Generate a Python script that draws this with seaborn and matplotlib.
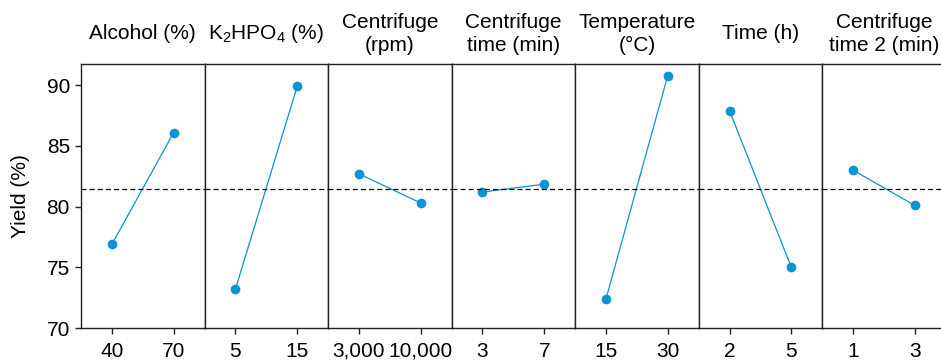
import seaborn as sns
import pandas as pd
import matplotlib.pyplot as plt

factors = ["Alcohol (%)", r"K$_2$HPO$_4$ (%)", "Centrifuge\n(rpm)", "Centrifuge\ntime (min)",
           "Temperature\n(°C)", "Time (h)", "Centrifuge\ntime 2 (min)"]
levels = [["40", "70"], ["5", "15"], ["3,000", "10,000"], ["3", "7"],
          ["15", "30"], ["2", "5"], ["1", "3"]]
yields = [[76.9, 86.1], [73.2, 89.9], [82.7, 80.3], [81.2, 81.85],
          [72.4, 90.8], [87.9, 75.0], [83.0, 80.1]]
mean_yield = 81.45

rows = []
for f, lv, yv in zip(factors, levels, yields):
  for i in range(2):
    rows.append({"factor": f, "level": lv[i], "pos": i, "yield": yv[i]})
df = pd.DataFrame(rows)

sns.set_style("ticks")
plt.rcParams['font.family'] = ['Liberation Sans', 'DejaVu Sans']
plt.rcParams['mathtext.fontset'] = 'custom'
plt.rcParams['mathtext.rm'] = 'Liberation Sans'
plt.rcParams['mathtext.it'] = 'Liberation Sans'
plt.rcParams['font.size'] = 15
plt.rcParams['text.color'] = 'black'
plt.rcParams['axes.labelcolor'] = 'black'
plt.rcParams['xtick.labelcolor'] = 'black'
plt.rcParams['ytick.labelcolor'] = 'black'

fig, axes = plt.subplots(1, 7, figsize=(9.41, 3.63), dpi=100, sharey=True)
fig.subplots_adjust(left=0.0861, right=1.005, bottom=0.0964, top=0.8237, wspace=0)

for k, ax in enumerate(axes):
  sub = df[df["factor"] == factors[k]]
  sns.lineplot(data=sub, x="pos", y="yield", ax=ax, color="#0a93d5", marker="o",
               markersize=7, markeredgewidth=0, linewidth=0.9)
  ax.axhline(mean_yield, color="black", linestyle=(0, (4, 2.5)), linewidth=0.9)
  ax.set_xlim(-0.5, 1.5)
  ax.set_ylim(70, 91.75)
  ax.set_xticks([0, 1])
  ax.set_xticklabels(levels[k])
  ax.set_xlabel("")
  ax.set_ylabel("")
  ax.text(0.5, 1.114, factors[k], ha="center", va="center", transform=ax.transAxes,
          fontsize=15, linespacing=1.25)
  for s in ax.spines.values():
    s.set_visible(True)
    s.set_color("#222222")
    s.set_linewidth(1.0)
  ax.tick_params(axis="x", length=4, width=1, color="#222222", labelsize=15, pad=6)
  if k > 0:
    ax.tick_params(axis="y", left=False)
  else:
    ax.tick_params(axis="y", length=4, width=1, color="#222222", labelsize=15, pad=4)

axes[0].set_yticks([70, 75, 80, 85, 90])
axes[0].set_ylabel("Yield (%)", fontsize=15, labelpad=12)

plt.savefig("out.png", dpi=100)
